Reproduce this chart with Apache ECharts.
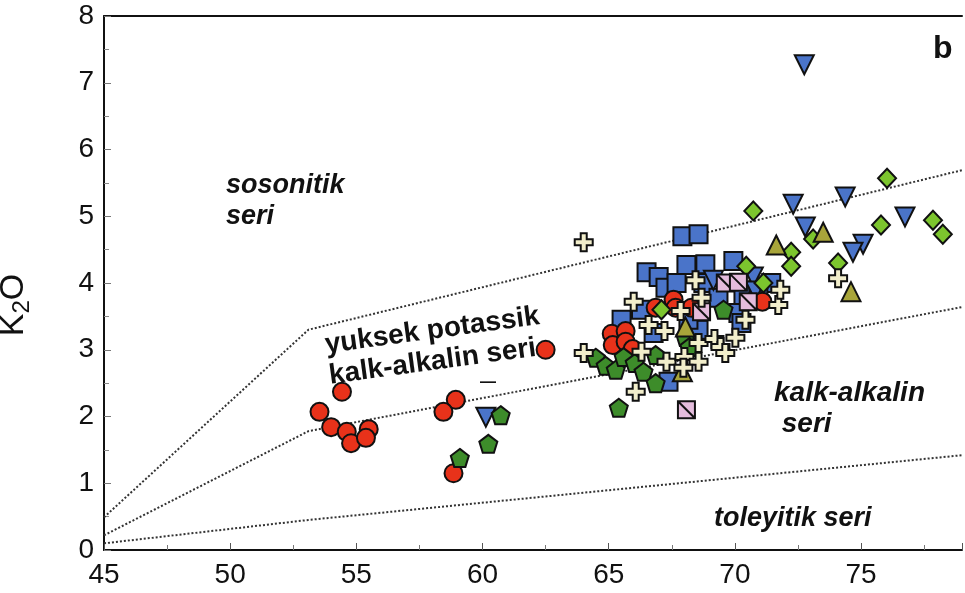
<!DOCTYPE html>
<html><head><meta charset="utf-8">
<script src="https://cdn.jsdelivr.net/npm/echarts@6/dist/echarts.min.js"></script>
<style>html,body{margin:0;padding:0;background:#fff}#c{width:965px;height:593px}</style>
</head><body><div id="c"></div>
<script>
const xTicks = [45, 50, 55, 60, 65, 70, 75];
const yTicks = [0, 1, 2, 3, 4, 5, 6, 7, 8];

const lineShoshonitic = [[45,0.49],[53.1,3.3],[79,5.69]];
const lineHighK = [[45,0.22],[53.1,1.78],[79,3.64]];
const lineTholeiitic = [[45,0.1],[53.1,0.45],[79,1.42]];

const redCircles = [[54.43,2.37],[53.54,2.07],[54.0,1.84],[54.62,1.77],[54.79,1.60],[55.49,1.81],[55.38,1.68],
  [58.94,2.25],[58.45,2.07],[58.85,1.15],[62.5,3.0],
  [65.12,3.24],[65.67,3.28],[65.16,3.07],[65.67,3.12],[65.95,3.01],[66.86,3.63],[67.57,3.75],[67.65,3.63],[68.28,3.63],[71.09,3.72]];
const blueSquares = [[67.92,4.70],[68.56,4.73],[66.50,4.16],[66.98,4.09],[67.25,3.93],[67.69,4.00],[68.08,4.27],[68.83,4.28],
  [69.94,4.33],[71.44,4.00],[65.51,3.45],[67.37,2.52],[70.14,3.55],[70.26,3.40],[68.75,4.00],[66.78,3.25],[68.56,3.30],
  [69.35,3.78],[70.34,3.82],[68.16,3.45],[66.28,3.60],[70.93,3.90]];
const blueTriangles = [[72.75,7.27],[72.31,5.18],[74.37,5.29],[72.79,4.84],[76.74,4.99],[75.08,4.58],[74.68,4.46],
  [60.13,1.99],[69.15,4.04],[70.73,4.09],[70.81,3.88]];
const greenPentagons = [[60.72,2.02],[60.23,1.59],[59.10,1.38],[64.49,2.88],[64.88,2.76],[65.28,2.70],[65.59,2.89],
  [66.03,2.80],[66.38,2.67],[66.86,2.92],[66.86,2.50],[65.40,2.13],[68.04,3.19],[68.20,3.04],[69.55,3.60]];
const greenDiamonds = [[76.03,5.57],[70.73,5.08],[75.79,4.87],[77.85,4.94],[78.24,4.73],[72.23,4.46],[72.23,4.25],
  [73.10,4.66],[74.09,4.30],[71.13,4.00],[70.45,4.25],[67.09,3.60]];
const oliveTriangles = [[71.64,4.57],[73.50,4.76],[74.60,3.87],[68.04,3.34],[67.92,2.67]];
const pinkSquares = [[69.62,4.00],[70.14,4.01],[70.53,3.72],[68.68,3.57],[68.08,2.10]];
const creamCrosses = [[64.01,4.61],[74.09,4.07],[65.99,3.72],[68.44,4.04],[68.68,3.78],[66.58,3.37],[67.21,3.28],
  [67.85,3.58],[64.01,2.95],[66.30,2.97],[67.29,2.82],[68.0,2.89],[68.56,3.10],[68.56,2.82],[69.19,3.16],[69.43,3.04],
  [69.62,2.95],[70.02,3.18],[70.42,3.45],[71.72,3.67],[71.80,3.90],[66.07,2.37],[67.96,2.73]];

const FONT = '"Liberation Sans", Arial, sans-serif';
const pentagon = 'path://M0,-10 L9.51,-3.09 L5.88,8.09 L-5.88,8.09 L-9.51,-3.09 Z';
const cross = 'path://M-3,-9 L3,-9 L3,-3 L9,-3 L9,3 L3,3 L3,9 L-3,9 L-3,3 L-9,3 L-9,-3 L-3,-3 Z';
const slashSquare = 'path://M0,0 L10,0 L10,10 L0,10 Z M0,0 L10,10';

function scat(name, data, symbol, size, color, extra) {
  return Object.assign({
    name, type: 'scatter', data, symbol, symbolSize: size,
    itemStyle: { color, borderColor: '#111', borderWidth: 2, opacity: 1 },
    emphasis: { disabled: true }, z: 5
  }, extra || {});
}
function dline(data) {
  return { type: 'line', data, symbol: 'none', silent: true, z: 2,
    lineStyle: { type: [2, 2], color: '#333', width: 2 } };
}

const chart = echarts.init(document.getElementById('c'));
chart.setOption({
  backgroundColor: '#fff',
  animation: false,
  grid: { left: 104, right: 0, top: 16, bottom: 43 },
  xAxis: [{
    type: 'value', min: 45, max: 79, interval: 5,
    axisLine: { onZero: false, lineStyle: { color: '#111', width: 2 } },
    axisTick: { inside: true, length: 7, lineStyle: { color: '#555' } },
    minorTick: { show: true, splitNumber: 2, length: 5, lineStyle: { color: '#777' } },
    splitLine: { show: false },
    axisLabel: { color: '#111', fontSize: 28, fontFamily: FONT, margin: 11,
      formatter: v => xTicks.includes(v) ? String(v) : '' }
  }, {
    type: 'value', position: 'top', min: 45, max: 79,
    axisLine: { show: true, onZero: false, lineStyle: { color: '#111', width: 2 } },
    axisTick: { show: false }, axisLabel: { show: false }, splitLine: { show: false }
  }],
  yAxis: {
    type: 'value', min: 0, max: 8, interval: 1,
    axisLine: { lineStyle: { color: '#111', width: 2 } },
    axisTick: { inside: true, length: 7, lineStyle: { color: '#777' } },
    minorTick: { show: true, splitNumber: 2, length: 5, lineStyle: { color: '#888' } },
    splitLine: { show: false },
    axisLabel: { color: '#111', fontSize: 28, fontFamily: FONT, margin: 10,
      formatter: v => yTicks.includes(v) ? String(v) : '' }
  },
  series: [
    dline(lineShoshonitic), dline(lineHighK), dline(lineTholeiitic),
    scat('blue squares', blueSquares, 'rect', 18, '#4a74c9'),
    scat('blue triangles', blueTriangles, 'triangle', 19, '#4a74c9', { symbolRotate: 180 }),
    scat('red circles', redCircles, 'circle', 18, '#e8321a'),
    scat('green pentagons', greenPentagons, pentagon, 18, '#3d8c2a'),
    scat('green diamonds', greenDiamonds, 'diamond', [18, 19], '#7cc52e'),
    scat('olive triangles', oliveTriangles, 'triangle', 19, '#a8a53a'),
    scat('pink squares', pinkSquares, slashSquare, 17, '#e4bcdc'),
    scat('cream crosses', creamCrosses, cross, 18, '#f2eecb')
  ],
  graphic: [
    { type: 'text', x: 14, y: 305, rotation: Math.PI / 2, style: {
        text: '{a|K}{b|2}{a|O}', textAlign: 'center', textVerticalAlign: 'middle',
        rich: { a: { fontSize: 34, fontFamily: FONT, fill: '#111' },
                b: { fontSize: 24, fontFamily: FONT, fill: '#111', padding: [16, 0, 0, 0] } } } },
    { type: 'text', x: 226, y: 170, style: { text: 'sosonitik\nseri', font: 'italic bold 27px ' + FONT, fill: '#111', lineHeight: 31 } },
    { type: 'text', x: 323, y: 330, rotation: 0.135, originX: 0, originY: 0, style: { text: 'yuksek potassik\nkalk-alkalin seri', font: 'bold 28px ' + FONT, fill: '#111', lineHeight: 31 } },
    { type: 'text', x: 774, y: 378, style: { text: 'kalk-alkalin\n seri', font: 'italic bold 28px ' + FONT, fill: '#111', lineHeight: 31 } },
    { type: 'text', x: 714, y: 505, style: { text: 'toleyitik seri', font: 'italic bold 27px ' + FONT, fill: '#111' } },
    { type: 'text', x: 933, y: 33, style: { text: 'b', font: 'bold 32px ' + FONT, fill: '#111' } },
    { type: 'text', x: 480, y: 375, style: { text: '—', font: 'bold 16px ' + FONT, fill: '#111' } }
  ]
});
</script></body></html>
